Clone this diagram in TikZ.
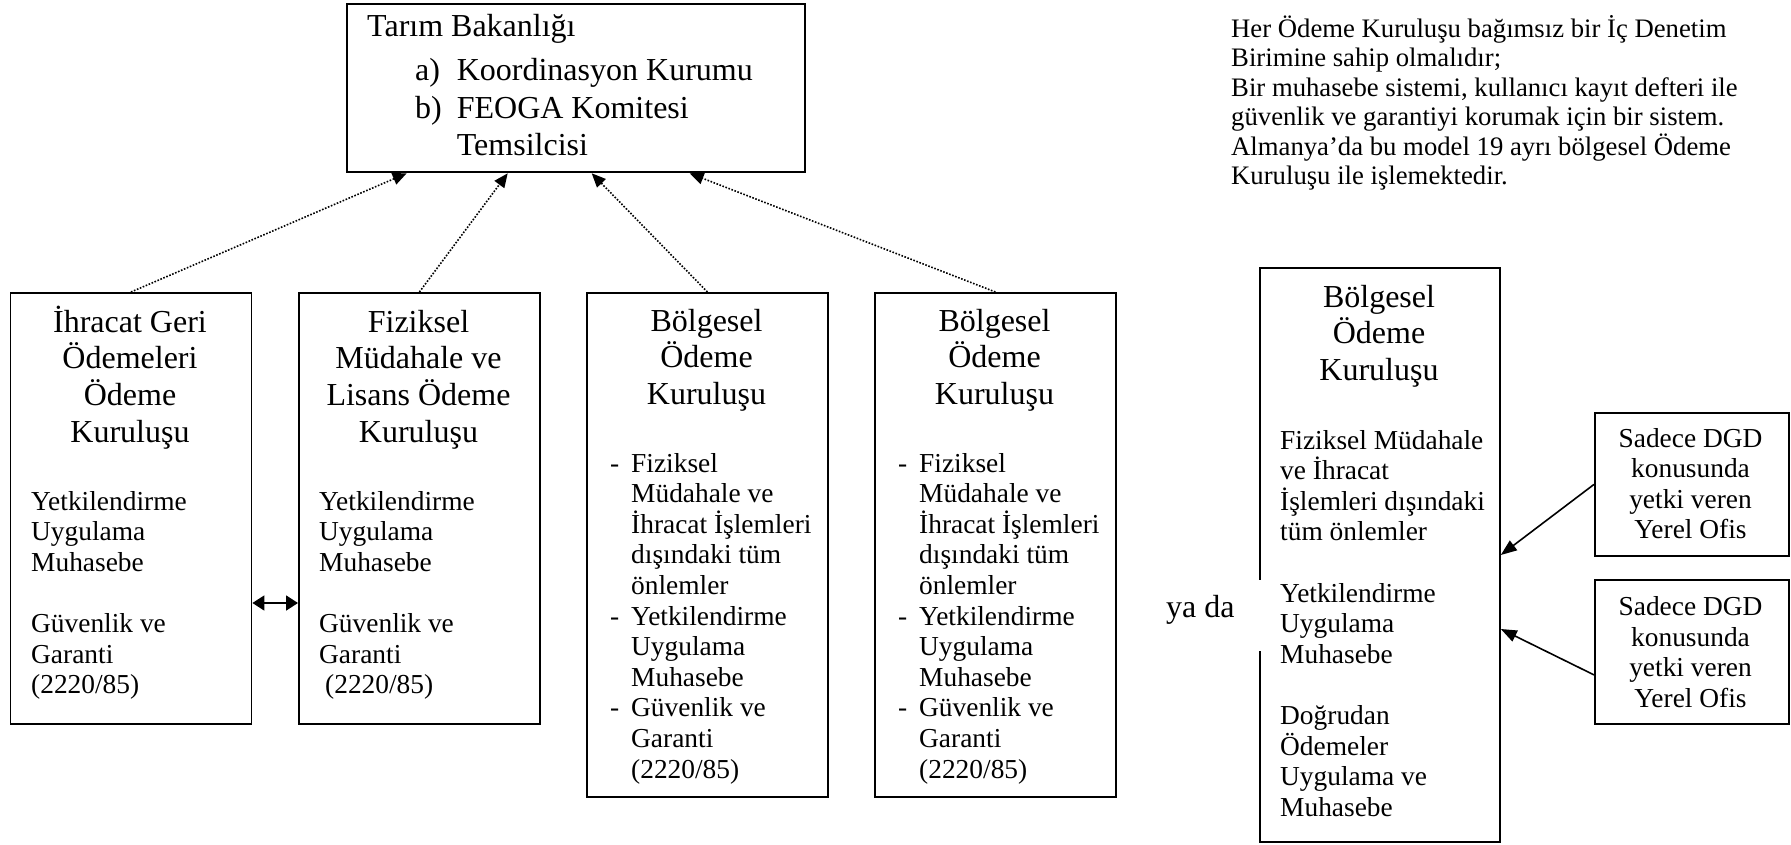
\documentclass[tikz,border=0pt]{standalone}
\usepackage{fontspec}
\setmainfont{Liberation Serif}
\usetikzlibrary{arrows.meta,calc}

% type sizes (1pt = one unit of the drawing)
\newcommand\hdfont{\fontsize{32}{36.8}\selectfont}
\newcommand\tpfont{\fontsize{32}{37.2}\selectfont}
\newcommand\bdfont{\fontsize{27.4}{30.6}\selectfont}
\newcommand\nbfont{\fontsize{26.7}{29.5}\selectfont}
% stacked lines, baseline of the node = baseline of the first line
\newcommand\cstack[1]{\vtop{\halign{\hfil##\hfil\cr#1\crcr}}}
\newcommand\lstack[1]{\vtop{\halign{##\hfil\cr#1\crcr}}}
\newcommand\dstack[1]{\vtop{\halign{\hbox to 21pt{##\hfil}&##\hfil\cr#1\crcr}}}
\newcommand\abstack[1]{\vtop{\halign{##\hfil&\kern 15pt##\hfil\cr#1\crcr}}}

\tikzset{
  box/.style={draw, line width=1.8pt, rectangle, inner sep=0pt, anchor=north west},
  txt/.style={inner sep=0pt},
  dotlink/.style={line width=1.6pt, dash pattern=on 1.6pt off 1.6pt,
    -{Triangle[length=14pt,width=12pt]}},
  solidlink/.style={line width=1.6pt, -{Triangle[length=16pt,width=12pt]}},
  twoway/.style={line width=1.8pt,
    {Triangle[length=12pt,width=15pt]}-{Triangle[length=12pt,width=15pt]}}
}

\begin{document}
\begin{tikzpicture}[x=1pt, y=-1pt]
\fill[white] (0,0) rectangle (1791,845);
\useasboundingbox (0,0) rectangle (1791,845);

% ministry
\node[box, minimum width=458pt, minimum height=168pt] (top) at (345.7,3.5) {};
\node[txt, anchor=base west] (toptitle) at (367,37) {\hdfont Tarım Bakanlığı};
\node[txt, anchor=base west] (toplist) at (415,81)
  {\tpfont\abstack{a)&Koordinasyon Kurumu\cr b)&FEOGA Komitesi\cr &Temsilcisi}};

% paying agencies
\node[box, minimum width=241pt, minimum height=431pt] (b1) at (9.6,292) {};
\node[box, minimum width=241pt, minimum height=431pt] (b2) at (298,292) {};
\node[box, minimum width=241pt, minimum height=504pt] (b3) at (586,292) {};
\node[box, minimum width=241pt, minimum height=504pt] (b4) at (874,292) {};

\node[txt, anchor=base] (b1h) at (130,332)
  {\hdfont\cstack{İhracat Geri\cr Ödemeleri\cr Ödeme\cr Kuruluşu}};
\node[txt, anchor=base west] (b1t) at (31,510)
  {\bdfont\lstack{Yetkilendirme\cr Uygulama\cr Muhasebe\cr\cr Güvenlik ve\cr Garanti\cr (2220/85)}};

\node[txt, anchor=base] (b2h) at (418.5,332)
  {\hdfont\cstack{Fiziksel\cr Müdahale ve\cr Lisans Ödeme\cr Kuruluşu}};
\node[txt, anchor=base west] (b2t) at (319,510)
  {\bdfont\lstack{Yetkilendirme\cr Uygulama\cr Muhasebe\cr\cr Güvenlik ve\cr Garanti\cr \kern6pt(2220/85)}};

\node[txt, anchor=base] (b3h) at (706.5,331)
  {\hdfont\cstack{Bölgesel\cr Ödeme\cr Kuruluşu}};
\node[txt, anchor=base west] (b3t) at (610,472)
  {\bdfont\dstack{-&Fiziksel\cr &Müdahale ve\cr &İhracat İşlemleri\cr &dışındaki tüm\cr &önlemler\cr
    -&Yetkilendirme\cr &Uygulama\cr &Muhasebe\cr -&Güvenlik ve\cr &Garanti\cr &(2220/85)}};

\node[txt, anchor=base] (b4h) at (994.5,331)
  {\hdfont\cstack{Bölgesel\cr Ödeme\cr Kuruluşu}};
\node[txt, anchor=base west] (b4t) at (898,472)
  {\bdfont\dstack{-&Fiziksel\cr &Müdahale ve\cr &İhracat İşlemleri\cr &dışındaki tüm\cr &önlemler\cr
    -&Yetkilendirme\cr &Uygulama\cr &Muhasebe\cr -&Güvenlik ve\cr &Garanti\cr &(2220/85)}};

% links to the ministry
\draw[dotlink] (b1.north) -- ($(top.south west)+(61,0)$);
\draw[dotlink] (b2.north) -- ($(top.south west)+(162,0)$);
\draw[dotlink] (b3.north) -- ($(top.south west)+(246,0)$);
\draw[dotlink] (b4.north) -- ($(top.south west)+(344,0)$);

\coordinate (mid) at (0,603);
\draw[twoway] (b1.east |- mid) -- (b2.west |- mid);

% note
\node[txt, anchor=base west] (note) at (1231,37.5)
  {\nbfont\lstack{Her Ödeme Kuruluşu bağımsız bir İç Denetim\cr
    Birimine sahip olmalıdır;\cr
    Bir muhasebe sistemi, kullanıcı kayıt defteri ile\cr
    güvenlik ve garantiyi korumak için bir sistem.\cr
    Almanya’da bu model 19 ayrı bölgesel Ödeme\cr
    Kuruluşu ile işlemektedir.}};

% alternative: one regional agency with local offices
\node[box, minimum width=240pt, minimum height=574pt] (rb) at (1259,267) {};
\fill[white] ($(rb.north west)+(-3,313)$) rectangle ($(rb.north west)+(1.5,384)$);
\node[txt, anchor=base west] (yada) at (1166,617) {\hdfont ya da};
\node[txt, anchor=base] (rbh) at (1379,307)
  {\hdfont\cstack{Bölgesel\cr Ödeme\cr Kuruluşu}};
\node[txt, anchor=base west] (rbt) at (1280,449)
  {\bdfont\lstack{Fiziksel Müdahale\cr ve İhracat\cr İşlemleri dışındaki\cr tüm önlemler\cr\cr
    Yetkilendirme\cr Uygulama\cr Muhasebe\cr\cr
    Doğrudan\cr Ödemeler\cr Uygulama ve\cr Muhasebe}};

\node[box, minimum width=194pt, minimum height=143pt] (s1) at (1594,412) {};
\node[box, minimum width=194pt, minimum height=144pt] (s2) at (1594,579) {};
\node[txt, anchor=base] (s1t) at (1690.5,447)
  {\bdfont\cstack{Sadece DGD\cr konusunda\cr yetki veren\cr Yerel Ofis}};
\node[txt, anchor=base] (s2t) at (1690.5,615.5)
  {\bdfont\cstack{Sadece DGD\cr konusunda\cr yetki veren\cr Yerel Ofis}};

\draw[solidlink] (s1.west) -- ($(rb.north east)+(0,288)$);
\draw[solidlink] ($(s2.west)+(0,23)$) -- ($(rb.north east)+(0,362)$);
\end{tikzpicture}
\end{document}
